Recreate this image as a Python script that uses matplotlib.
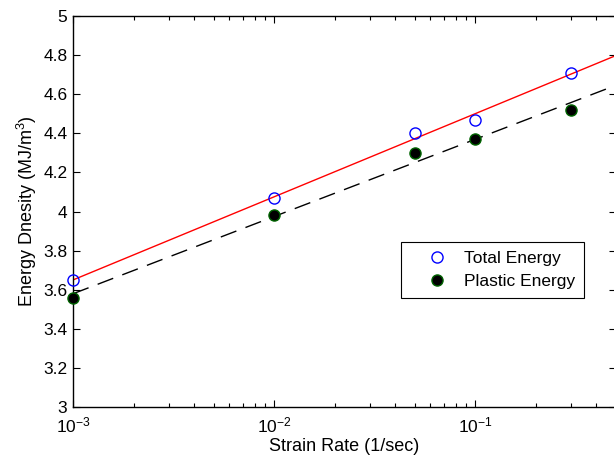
import numpy as np
import matplotlib
matplotlib.use('Agg')
import matplotlib.pyplot as plt
from matplotlib.ticker import FormatStrFormatter, LogLocator

plt.rcParams['font.family'] = ['Liberation Sans', 'DejaVu Sans']
plt.rcParams['mathtext.fontset'] = 'custom'
plt.rcParams['mathtext.rm'] = 'Liberation Sans'
plt.rcParams['mathtext.it'] = 'Liberation Sans'

strain_rate = [0.001, 0.01, 0.05, 0.1, 0.3]
total_energy = [3.65, 4.07, 4.40, 4.47, 4.71]
plastic_energy = [3.56, 3.98, 4.30, 4.37, 4.52]

# linear fits in log10(strain rate)
xfit = np.logspace(-3, np.log10(0.5), 50)
p_tot = np.polyfit(np.log10(strain_rate), total_energy, 1)
p_pla = np.polyfit(np.log10(strain_rate), plastic_energy, 1)

fig = plt.figure(figsize=(6.14, 4.66), dpi=100)
ax = fig.add_axes([0.1189, 0.1266, 0.8836, 0.839])

ax.plot(xfit, np.polyval(p_tot, np.log10(xfit)), color='red', lw=1)
ax.plot(xfit, np.polyval(p_pla, np.log10(xfit)), color='black', lw=1, dashes=(12, 7))
ax.plot(strain_rate, total_energy, 'o', mfc='none', mec='blue', ms=8, mew=1,
        label='Total Energy', clip_on=False, zorder=5)
ax.plot(strain_rate, plastic_energy, 'o', mfc='black', mec='darkgreen', ms=8, mew=1,
        label='Plastic Energy', clip_on=False, zorder=5)

ax.set_xscale('log')
ax.set_xlim(1e-3, 0.5)
ax.set_ylim(3, 5)
ax.set_yticks(np.arange(3, 5.01, 0.2))
ax.yaxis.set_major_formatter(FormatStrFormatter('%g'))
ax.xaxis.set_major_locator(LogLocator(base=10, numticks=10))
ax.xaxis.set_minor_locator(LogLocator(base=10, subs=np.arange(2, 10), numticks=10))

ax.tick_params(which='both', direction='in', top=True, right=True, labelsize=12.5,
               colors='black', width=0.8)
ax.tick_params(which='major', length=5)
ax.tick_params(which='minor', length=3)
ax.tick_params(axis='x', pad=6)
ax.tick_params(axis='y', pad=4)
for s in ax.spines.values():
    s.set_linewidth(1)

ax.set_xlabel('Strain Rate (1/sec)', fontsize=13, labelpad=2)
ax.set_ylabel('Energy Dnesity (MJ/m$^3$)', fontsize=13, labelpad=3)

leg = ax.legend(loc='lower right', bbox_to_anchor=(0.941, 0.279), fontsize=12.5,
                fancybox=False, edgecolor='black', framealpha=1,
                handlelength=3.1, handletextpad=0.0, borderpad=0.5,
                labelspacing=0.45, borderaxespad=0)
leg.get_frame().set_linewidth(0.8)

fig.savefig('out.png', dpi=100)
